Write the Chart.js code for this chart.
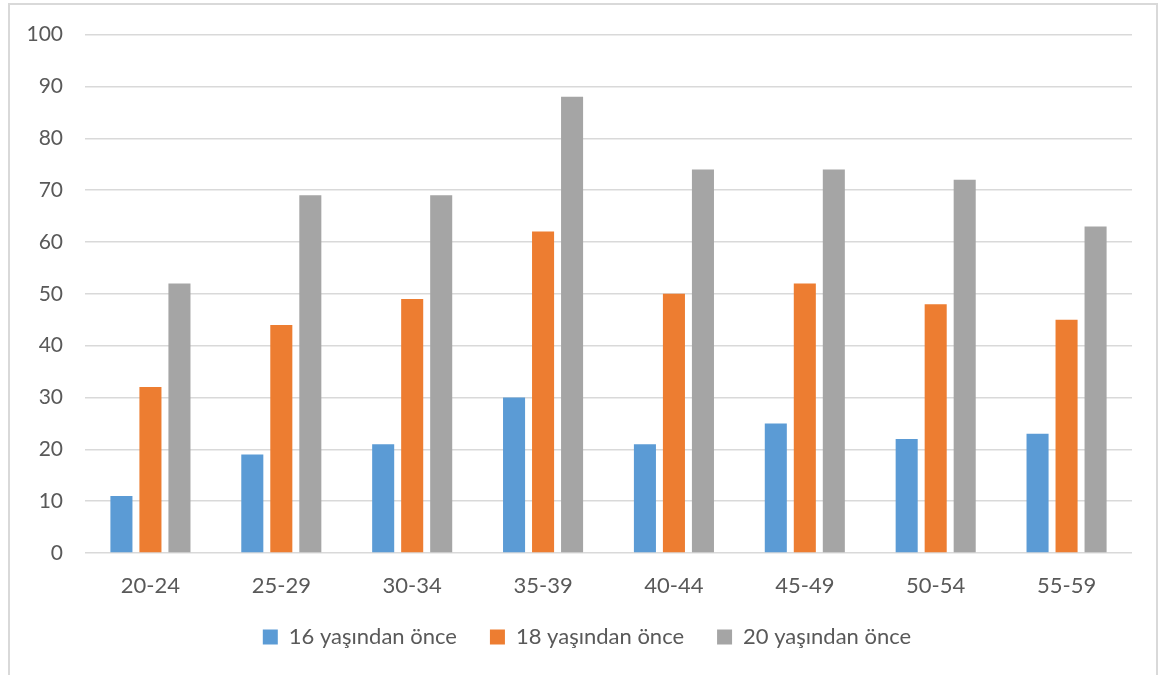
<!DOCTYPE html>
<html>
<head>
<meta charset="utf-8">
<script src="https://cdn.jsdelivr.net/npm/chart.js"></script>
<style>
  html, body { margin: 0; padding: 0; background: #fff; overflow: hidden; }
  #frame {
    position: absolute; left: 8px; top: 3px; width: 1150px; height: 690px;
    border: 2px solid #d9d9d9; box-sizing: border-box;
  }
  #wrap { position: absolute; left: 0; top: 0; width: 1173px; height: 675px; }
</style>
</head>
<body>
<div id="frame"></div>
<div id="wrap"><canvas id="myChart"></canvas></div>
<script>
// age groups on the x axis
const ageGroups = ['20-24', '25-29', '30-34', '35-39', '40-44', '45-49', '50-54', '55-59'];

// series values (percent)
const before16 = [11, 19, 21, 30, 21, 25, 22, 23];
const before18 = [32, 44, 49, 62, 50, 52, 48, 45];
const before20 = [52, 69, 69, 88, 74, 74, 72, 63];

const seriesNames = ['16 yaşından önce', '18 yaşından önce', '20 yaşından önce'];

// y axis ticks
const yMin = 0;
const yMax = 100;
const yStep = 10;

const textColor = '#595959';
const gridColor = '#d9d9d9';

Chart.defaults.font.family = 'Lato, "Liberation Sans", sans-serif';
Chart.defaults.color = textColor;

// axis boxes are kept tight so the legend sits where it should; don't clip their labels
const noLabelClip = {
    id: 'noLabelClip',
    beforeDraw(chart) {
        chart.scales.x._computeLabelArea = () => undefined;
        chart.scales.y._computeLabelArea = () => undefined;
    }
};

const ctx = document.getElementById('myChart').getContext('2d');
const myChart = new Chart(ctx, {
    type: 'bar',
    data: {
        labels: ageGroups,
        datasets: [
            { label: seriesNames[0], data: before16, backgroundColor: '#5b9bd5' },
            { label: seriesNames[1], data: before18, backgroundColor: '#ed7d31' },
            { label: seriesNames[2], data: before20, backgroundColor: '#a5a5a5' }
        ]
    },
    options: {
        responsive: true,
        maintainAspectRatio: false,
        animation: false,
        categoryPercentage: 0.665,
        barPercentage: 0.76,
        layout: {
            padding: { left: 42, right: 41, top: 21, bottom: 17 }
        },
        plugins: {
            tooltip: { enabled: false },
            legend: {
                position: 'bottom',
                labels: {
                    boxWidth: 15,
                    boxHeight: 15,
                    padding: 33,
                    font: { size: 22 },
                    color: textColor
                }
            }
        },
        scales: {
            x: {
                grid: { display: false, drawTicks: false },
                border: { display: false },
                ticks: { font: { size: 22 }, padding: 20, color: textColor },
                afterFit: axis => { axis.height = 40; }
            },
            y: {
                min: yMin,
                max: yMax,
                ticks: { stepSize: yStep, font: { size: 21 }, padding: 22, color: textColor },
                grid: { color: gridColor, lineWidth: 1.5, drawTicks: false },
                border: { display: false },
                afterFit: axis => { axis.width = 43; }
            }
        }
    },
    plugins: [noLabelClip]
});
</script>
</body>
</html>
